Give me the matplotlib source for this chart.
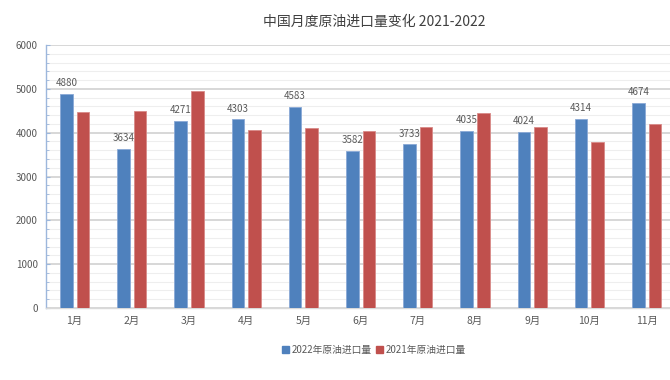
import matplotlib
matplotlib.use("Agg")
import matplotlib.pyplot as plt
from matplotlib.ticker import MultipleLocator
from matplotlib.patches import Patch
import numpy as np

plt.rcParams['font.family'] = ['Noto Sans CJK SC', 'DejaVu Sans']

months = ["1月", "2月", "3月", "4月", "5月", "6月", "7月", "8月", "9月", "10月", "11月"]
imports_2022 = [4880, 3634, 4271, 4303, 4583, 3582, 3733, 4035, 4024, 4314, 4674]
imports_2021 = [4465, 4502, 4958, 4052, 4107, 4030, 4137, 4456, 4122, 3788, 4198]
series_names = ["2022年原油进口量", "2021年原油进口量"]
title = "中国月度原油进口量变化 2021-2022"

blue = "#4F81BD"
red = "#C0504D"

fig = plt.figure(figsize=(6.7, 3.8), dpi=100)
ax = fig.add_axes([0.0687, 0.1895, 0.939, 0.692])

x = np.arange(len(months))
w = 0.22
off = 0.145
ax.bar(x - off, imports_2022, width=w, color=blue, edgecolor="#8AA9D6", linewidth=0.6, zorder=3)
ax.bar(x + off, imports_2021, width=w, color=red, edgecolor="#D98A88", linewidth=0.6, zorder=3)

for xi, v in zip(x, imports_2022):
    ax.text(xi - off, v + 130, str(v), ha="center", va="bottom", fontsize=7,
            color="#595959", zorder=2)

ax.set_xlim(-0.5, len(months) - 0.5)
ax.set_ylim(0, 6000)
ax.yaxis.set_major_locator(MultipleLocator(1000))
ax.yaxis.set_minor_locator(MultipleLocator(200))
ax.grid(axis="y", which="major", color="#D4D4D4", linewidth=1.3, zorder=0)
ax.grid(axis="y", which="minor", color="#EEEEEE", linewidth=0.8, zorder=0)
ax.set_axisbelow(True)

for s in ["top", "right"]:
    ax.spines[s].set_visible(False)
ax.spines["left"].set_color("#9DB7DC")
ax.spines["left"].set_linewidth(1.0)
ax.spines["bottom"].set_color("#D9D9D9")
ax.spines["bottom"].set_linewidth(1.0)

ax.set_xticks(x)
ax.set_xticklabels(months)
ax.tick_params(axis="x", length=0, pad=6, labelsize=7.5, labelcolor="#595959")
ax.tick_params(axis="y", which="major", length=3, direction="in", color="#9DB7DC",
               labelsize=7, labelcolor="#595959", pad=6)
ax.tick_params(axis="y", which="minor", length=2, direction="in", color="#9DB7DC")

fig.text(0.558, 0.942, title, ha="center", va="center", fontsize=10, color="#404040")

handles = [Patch(facecolor=blue, edgecolor=blue), Patch(facecolor=red, edgecolor=red)]
fig.legend(handles, series_names, loc="center", bbox_to_anchor=(0.558, 0.079), ncol=2,
           frameon=False, fontsize=7, handlelength=0.7, handleheight=0.7,
           handletextpad=0.3, columnspacing=0.4, labelcolor="#595959")

fig.savefig("out.png", dpi=100, facecolor="white")
